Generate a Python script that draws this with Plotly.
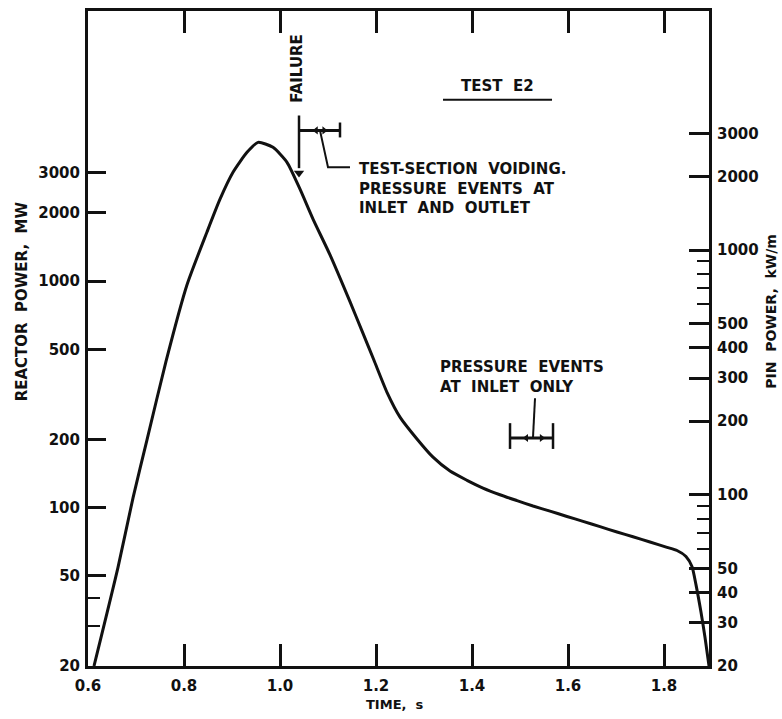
import math
import plotly.graph_objects as go

# ---- data ----
time_s = [0.6125, 0.6625, 0.6938, 0.7229, 0.7625, 0.8063, 0.8479, 0.875, 0.9021, 0.9313,
          0.9542, 0.9854, 1.0146, 1.0417, 1.0688, 1.1042, 1.1458, 1.1708, 1.1958, 1.2229,
          1.25, 1.2854, 1.3188, 1.3542, 1.3896, 1.4229, 1.4583, 1.4938, 1.5271, 1.5625,
          1.5979, 1.6313, 1.6667, 1.7021, 1.7354, 1.7708, 1.8063, 1.8271, 1.8458, 1.8583,
          1.8667, 1.8771, 1.8854, 1.8938]
reactor_power_mw = [20, 54.5, 110.5, 199, 442, 963, 1647, 2299, 3022, 3700,
                    4093, 3892, 3344, 2544, 1878, 1305, 811, 603, 447, 323,
                    251, 201, 167, 145, 132, 122.0, 114.0, 107.4, 101.7, 96.5,
                    91.4, 87.0, 82.4, 78.1, 74.4, 70.5, 66.8, 64.7, 60.9, 55.0,
                    45.6, 34.5, 26.8, 20]

x_ticks = [0.6, 0.8, 1.0, 1.2, 1.4, 1.6, 1.8]
x_ticktext = ["0.6", "0.8", "1.0", "1.2", "1.4", "1.6", "1.8"]
left_ticks = [20, 50, 100, 200, 500, 1000, 2000, 3000]
left_minor = [30, 40]
right_ticks = [20, 30, 40, 50, 100, 200, 300, 400, 500, 1000, 2000, 3000]
right_minor = [60, 70, 80, 90, 600, 700, 800, 900]

# annotation anchors (data units)
failure_time = 1.0396
voiding_end = 1.125
voiding_level = 4624
inlet_start, inlet_end = 1.4792, 1.5688
inlet_level = 203

FONT = "DejaVu Sans"
INK = "#111111"

fig = go.Figure()

fig.add_trace(go.Scatter(x=time_s, y=reactor_power_mw, mode="lines",
                         line=dict(color=INK, width=3, shape="spline", smoothing=0.6),
                         hoverinfo="skip", showlegend=False))
# dummy trace for the right-hand (pin power) axis
fig.add_trace(go.Scatter(x=[None], y=[None], yaxis="y2", mode="lines", showlegend=False))

def seg(xs, ys, w=2.5):
    fig.add_trace(go.Scatter(x=xs, y=ys, mode="lines", line=dict(color=INK, width=w),
                             hoverinfo="skip", showlegend=False))

# failure arrow + voiding bracket
seg([failure_time, failure_time], [5380, 3150], 2.5)
seg([failure_time, voiding_end], [voiding_level, voiding_level], 3)
seg([voiding_end, voiding_end], [5010, 4305], 2.5)
seg([1.0833, 1.10, 1.1458], [voiding_level, 3178, 3178], 2)
fig.add_trace(go.Scatter(x=[failure_time], y=[3000], mode="markers",
                         marker=dict(symbol="triangle-down", size=9, color=INK),
                         hoverinfo="skip", showlegend=False))
fig.add_trace(go.Scatter(x=[1.075, 1.092], y=[voiding_level, voiding_level], mode="markers",
                         marker=dict(symbol=["triangle-left", "triangle-right"], size=7, color=INK),
                         hoverinfo="skip", showlegend=False))

# inlet-only bracket
seg([inlet_start, inlet_end], [inlet_level, inlet_level], 3)
seg([inlet_start, inlet_start], [236, 181.6], 2.5)
seg([inlet_end, inlet_end], [236, 181.6], 2.5)
seg([1.5313, 1.527], [304, inlet_level], 2)
fig.add_trace(go.Scatter(x=[1.513, 1.545], y=[inlet_level, inlet_level], mode="markers",
                         marker=dict(symbol=["triangle-left", "triangle-right"], size=7, color=INK),
                         hoverinfo="skip", showlegend=False))

# "TEST E2" underline
seg([1.3396, 1.5667], [6320, 6320], 2)

tf = dict(family=FONT, size=15, color=INK, weight="bold")
L = math.log10
fig.add_annotation(x=failure_time - 0.004, y=L(8650), text="FAILURE", textangle=-90,
                   showarrow=False, font=tf)
fig.add_annotation(x=1.4521, y=L(7280), text="TEST  E2", showarrow=False,
                   font=dict(family=FONT, size=15, color=INK, weight="bold"))
fig.add_annotation(x=1.1604, y=L(2573), xanchor="left", align="left", showarrow=False,
                   text="TEST-SECTION  VOIDING.<br>PRESSURE  EVENTS  AT<br>INLET  AND  OUTLET",
                   font=tf)
fig.add_annotation(x=1.329, y=L(378), xanchor="left", align="left", showarrow=False,
                   text="PRESSURE  EVENTS<br>AT  INLET  ONLY", font=tf)

# axis titles
fig.add_annotation(xref="paper", yref="paper", x=-0.106, y=0.557, textangle=-90,
                   xanchor="center", yanchor="middle",
                   text="REACTOR  POWER,  MW", showarrow=False,
                   font=dict(family=FONT, size=15, color=INK, weight="bold"))
fig.add_annotation(xref="paper", yref="paper", x=1.1, y=0.541, textangle=-90,
                   xanchor="center", yanchor="middle",
                   text="PIN  POWER,  kW/m", showarrow=False,
                   font=dict(family=FONT, size=14, color=INK, weight="bold"))
fig.add_annotation(xref="paper", yref="paper", x=0.495, y=-0.0593,
                   xanchor="center", yanchor="middle",
                   text="TIME,  s", showarrow=False,
                   font=dict(family=FONT, size=13, color=INK, weight="bold"))

tickfont = dict(family=FONT, size=15, color=INK, weight="bold")

fig.update_layout(
    width=782, height=719,
    margin=dict(l=88, r=73, t=8, b=53),
    paper_bgcolor="white", plot_bgcolor="white",
    showlegend=False,
    xaxis=dict(range=[0.6, 1.89375], tickmode="array", tickvals=x_ticks, ticktext=x_ticktext,
               ticks="inside", ticklen=22, tickwidth=2.5, tickcolor=INK,
               showline=True, linewidth=3, linecolor=INK, mirror="ticks",
               showgrid=False, zeroline=False, tickfont=tickfont, ticklabelstandoff=4),
    yaxis=dict(type="log", range=[L(20), 4.192], tickmode="array", tickvals=left_ticks,
               ticktext=[str(v) for v in left_ticks],
               ticks="inside", ticklen=18, tickwidth=2.5, tickcolor=INK,
               minor=dict(tickmode="array", tickvals=left_minor, ticks="inside",
                          ticklen=12, tickwidth=2, tickcolor=INK, showgrid=False),
               showline=True, linewidth=3, linecolor=INK,
               showgrid=False, zeroline=False, tickfont=tickfont, ticklabelstandoff=2),
    yaxis2=dict(type="log", range=[L(20), 3.977], overlaying="y", side="right",
                tickmode="array", tickvals=right_ticks, ticktext=[str(v) for v in right_ticks],
                ticks="inside", ticklen=20, tickwidth=2.5, tickcolor=INK,
                minor=dict(tickmode="array", tickvals=right_minor, ticks="inside",
                           ticklen=12, tickwidth=2, tickcolor=INK, showgrid=False),
                showline=True, linewidth=3, linecolor=INK,
                showgrid=False, zeroline=False, tickfont=tickfont, ticklabelstandoff=2),
)

fig.write_html("out.html")
